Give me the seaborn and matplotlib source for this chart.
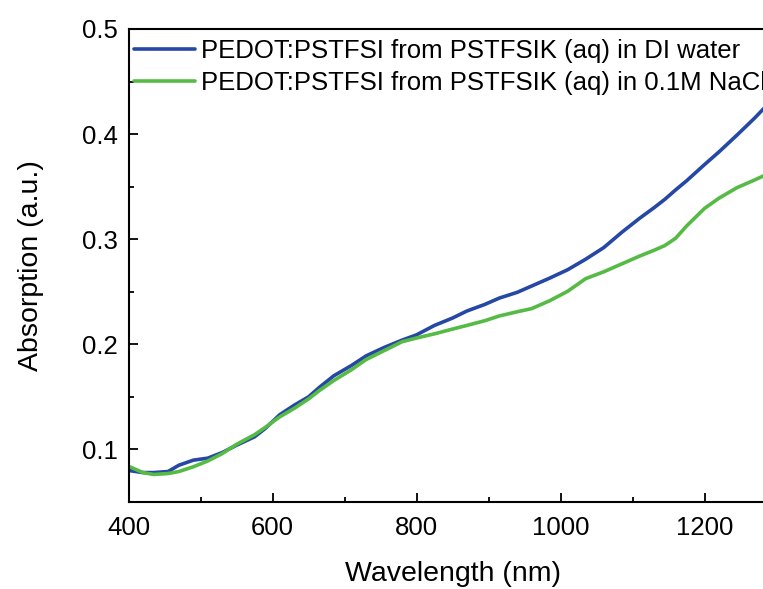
import matplotlib
matplotlib.use("Agg")
import matplotlib.pyplot as plt
import numpy as np
import pandas as pd
import seaborn as sns
from matplotlib.ticker import MultipleLocator

# wavelengths (nm)
wavelength = [400, 420, 435, 455, 470, 490, 510, 530, 550, 575, 590, 610, 630,
              650, 665, 685, 710, 730, 755, 780, 800, 825, 850, 870, 895, 915,
              940, 960, 985, 1010, 1035, 1060, 1085, 1110, 1130, 1145, 1160,
              1175, 1200, 1220, 1245, 1270, 1300]

# PEDOT:PSTFSI in DI water
abs_water = [0.080, 0.078, 0.078, 0.079, 0.085, 0.0898, 0.0917, 0.097, 0.104,
             0.112, 0.120, 0.133, 0.142, 0.150, 0.159, 0.170, 0.180, 0.189,
             0.197, 0.204, 0.209, 0.218, 0.225, 0.2317, 0.238, 0.244, 0.2495,
             0.2555, 0.263, 0.271, 0.281, 0.292, 0.3065, 0.320, 0.330, 0.338,
             0.347, 0.3555, 0.371, 0.383, 0.399, 0.4155, 0.437]

# PEDOT:PSTFSI in 0.1M NaCl
abs_nacl = [0.084, 0.078, 0.0762, 0.0771, 0.079, 0.0835, 0.089, 0.096, 0.1048,
            0.114, 0.121, 0.131, 0.139, 0.148, 0.156, 0.1655, 0.176, 0.1855,
            0.194, 0.2025, 0.206, 0.210, 0.2145, 0.218, 0.2225, 0.227, 0.231,
            0.234, 0.2415, 0.2505, 0.2625, 0.269, 0.2765, 0.284, 0.2895,
            0.294, 0.301, 0.3125, 0.3293, 0.339, 0.349, 0.3565, 0.366]

labels = ["PEDOT:PSTFSI from PSTFSIK (aq) in DI water",
          "PEDOT:PSTFSI from PSTFSIK (aq) in 0.1M NaCl"]
colors = ["#2547a6", "#55bb44"]

df = pd.concat([
    pd.DataFrame({"Wavelength": wavelength, "Absorption": abs_water, "sample": labels[0]}),
    pd.DataFrame({"Wavelength": wavelength, "Absorption": abs_nacl, "sample": labels[1]}),
])

sns.set_style("ticks")
plt.rcParams["font.family"] = ["Liberation Sans", "DejaVu Sans"]
plt.rcParams["text.color"] = "black"
plt.rcParams["axes.labelcolor"] = "black"
plt.rcParams["xtick.color"] = "black"
plt.rcParams["ytick.color"] = "black"

fig = plt.figure(figsize=(7.63, 5.89), dpi=100)
# the right end of the axis runs past the figure edge, as in the source image
ax = fig.add_axes([128.5 / 763, 87 / 589, (776.5 - 128.5) / 763, (502 - 29) / 589])

sns.lineplot(data=df, x="Wavelength", y="Absorption", hue="sample",
             palette=colors, linewidth=2.6, ax=ax, sort=False)

ax.set_xlim(400, 1300)
ax.set_ylim(0.05, 0.5)
ax.xaxis.set_major_locator(MultipleLocator(200))
ax.xaxis.set_minor_locator(MultipleLocator(100))
ax.yaxis.set_major_locator(MultipleLocator(0.1))
ax.yaxis.set_minor_locator(MultipleLocator(0.05))
ax.tick_params(which="major", direction="in", length=6.5, width=1.3,
               labelsize=18.5)
ax.tick_params(which="minor", direction="in", length=3.5, width=1.3)
ax.tick_params(axis="x", which="major", pad=10)
ax.tick_params(axis="y", which="major", pad=8)
ax.set_yticks([0.1, 0.2, 0.3, 0.4, 0.5])
ax.set_yticklabels(["0.1", "0.2", "0.3", "0.4", "0.5"])

for side in ["left", "bottom", "top", "right"]:
    ax.spines[side].set_visible(True)
    ax.spines[side].set_linewidth(1.5)
    ax.spines[side].set_color("black")

ax.set_xlabel("Wavelength (nm)", fontsize=20.5, labelpad=15)
ax.set_ylabel("Absorption (a.u.)", fontsize=20.5, labelpad=27)

ax.legend(loc="upper left", bbox_to_anchor=(0, 1 - 4 / 473), frameon=False,
          fontsize=18.5, handlelength=2.35, handletextpad=0.26,
          labelspacing=0.33, borderaxespad=0.1, borderpad=0.12)

fig.savefig("out.png", dpi=100)
